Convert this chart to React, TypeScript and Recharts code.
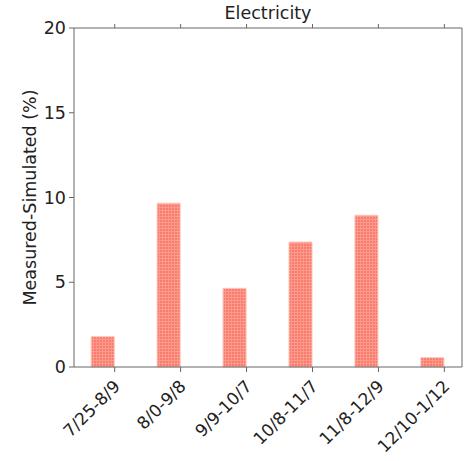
import { BarChart, Bar, XAxis, YAxis } from 'recharts'

// periods and measured-vs-simulated gap (%)
const periods = ['7/25-8/9', '8/0-9/8', '9/9-10/7', '10/8-11/7', '11/8-12/9', '12/10-1/12']
const diffs = [1.79, 9.66, 4.64, 7.37, 8.95, 0.55]
const yTicks = [0, 5, 10, 15, 20]

const data = periods.map((p, i) => ({ i, period: p, diff: diffs[i] }))
const idx = periods.map((_, i) => i)

const FONT = '"DejaVu Sans", sans-serif'
const AXIS = '#666'
const TEXT = '#222'

// visible axis spans the matplotlib-like margins; bars sit left of each tick
const X_DOMAIN: [number, number] = [-0.6175, 5.2675]
const BAR_SHIFT = 0.175
const BAR_DOMAIN: [number, number] = [X_DOMAIN[0] + BAR_SHIFT, X_DOMAIN[1] + BAR_SHIFT]

function PeriodTick(props: any) {
  const { x, y, payload } = props
  const label = periods[payload.value] ?? ''
  return (
    <text
      x={x}
      y={y}
      transform={`rotate(-45, ${x}, ${y})`}
      dx={-5}
      dy={14}
      textAnchor="end"
      fontSize={17}
      fontFamily={FONT}
      fill={TEXT}
    >
      {label}
    </text>
  )
}

export default function App() {
  return (
    <div style={{ position: 'absolute', left: 0, top: 0, width: 467, height: 461, background: '#fff' }}>
      <div
        style={{
          position: 'absolute',
          left: 74,
          width: 388,
          top: 3,
          textAlign: 'center',
          fontFamily: FONT,
          fontSize: 17.5,
          color: TEXT,
        }}
      >
        Electricity
      </div>
      <BarChart width={467} height={461} data={data} margin={{ top: 27, right: 0, left: 0, bottom: 0 }}>
        <defs>
          <pattern id="grid" width="3" height="3" patternUnits="userSpaceOnUse">
            <rect width="3" height="3" fill="#f87b6b" />
            <path d="M0 0.5H3M0.5 0V3" stroke="#fb9a8d" strokeWidth="1" />
          </pattern>
        </defs>
        <XAxis xAxisId="bars" dataKey="i" type="number" domain={BAR_DOMAIN} allowDataOverflow hide height={0} />
        <XAxis
          xAxisId="main"
          dataKey="i"
          type="number"
          domain={X_DOMAIN}
          ticks={idx}
          allowDataOverflow
          height={94}
          stroke={AXIS}
          tickSize={5}
          tick={<PeriodTick />}
          interval={0}
        />
        <XAxis
          xAxisId="top"
          orientation="top"
          dataKey="i"
          type="number"
          domain={X_DOMAIN}
          ticks={idx}
          allowDataOverflow
          height={1}
          stroke={AXIS}
          tickSize={4}
          tickFormatter={() => ''}
        />
        <YAxis
          yAxisId="left"
          domain={[0, 20]}
          ticks={yTicks}
          width={74}
          stroke={AXIS}
          tickSize={5}
          tickMargin={3}
          tick={{ fontSize: 17.5, fontFamily: FONT, fill: TEXT }}
          label={{
            value: 'Measured-Simulated (%)',
            angle: -90,
            position: 'insideLeft',
            offset: 30,
            style: { textAnchor: 'middle', fontSize: 17.5, fontFamily: FONT, fill: TEXT },
          }}
        />
        <YAxis
          yAxisId="right"
          orientation="right"
          domain={[0, 20]}
          ticks={yTicks}
          width={5}
          stroke={AXIS}
          tickSize={4}
          tickFormatter={() => ''}
        />
        <Bar
          dataKey="diff"
          xAxisId="bars"
          yAxisId="left"
          barSize={23}
          fill="url(#grid)"
          stroke="#ffc3ba"
          strokeWidth={1}
          isAnimationActive={false}
        />
      </BarChart>
    </div>
  )
}
